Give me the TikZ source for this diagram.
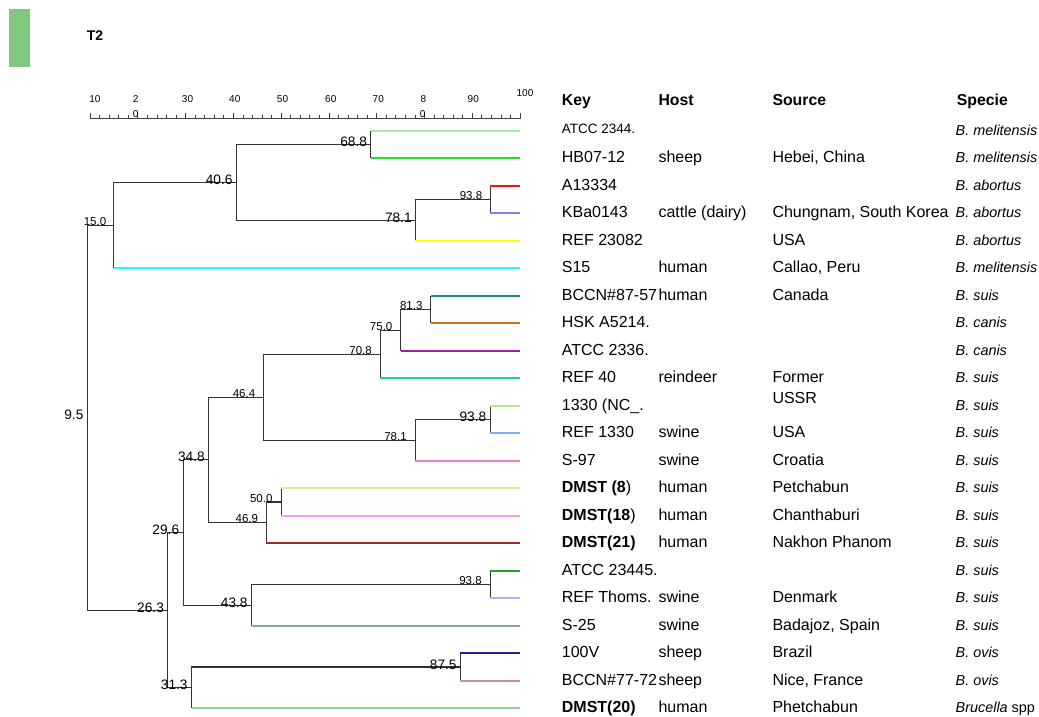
\documentclass[tikz,border=0pt]{standalone}
\usepackage{fontspec}
\setmainfont{Liberation Sans}
\usetikzlibrary{calc}
\definecolor{c1}{HTML}{A0F0A0}
\definecolor{c2}{HTML}{20E020}
\definecolor{c3}{HTML}{FF1010}
\definecolor{c4}{HTML}{8080FF}
\definecolor{c5}{HTML}{FFFF00}
\definecolor{c6}{HTML}{20FFFF}
\definecolor{c7}{HTML}{208888}
\definecolor{c8}{HTML}{D07020}
\definecolor{c9}{HTML}{A020A0}
\definecolor{c10}{HTML}{20D080}
\definecolor{c11}{HTML}{B8E880}
\definecolor{c12}{HTML}{80B0E8}
\definecolor{c13}{HTML}{F080B0}
\definecolor{c14}{HTML}{E8E890}
\definecolor{c15}{HTML}{F0A0F0}
\definecolor{c16}{HTML}{A02828}
\definecolor{c17}{HTML}{20A020}
\definecolor{c18}{HTML}{B0B0FF}
\definecolor{c19}{HTML}{88A8A0}
\definecolor{c20}{HTML}{2020A0}
\definecolor{c21}{HTML}{D09090}
\definecolor{c22}{HTML}{90D090}
\definecolor{tabgreen}{HTML}{80C880}
\newcommand\leafedge[3]{\draw[br] (#1) -- (#1 |- #2); \draw[lf,#3] (#1 |- #2) -- (#2);}
\begin{document}
\begin{tikzpicture}[x=1pt,y=-1pt,
  br/.style={draw=black!80,line width=1.1pt},
  lf/.style={line width=2pt},
  bigl/.style={font=\fontsize{13.7}{15}\selectfont,anchor=base east,inner sep=0pt},
  sml/.style={font=\fontsize{11.5}{13}\selectfont,anchor=base east,inner sep=0pt},
  cell/.style={font=\fontsize{16}{18}\selectfont,anchor=base west,inner sep=0pt},
  hdr/.style={anchor=base west,inner sep=0pt,font=\fontsize{15.8}{18}\selectfont\bfseries},
  sp/.style={anchor=base west,inner sep=0pt,font=\fontsize{14.4}{17}\selectfont\itshape},
  ax/.style={font=\fontsize{10}{12}\selectfont,inner sep=0pt,anchor=base},
  tick/.style={draw=black!75,line width=0.7pt},
]
\useasboundingbox (0,0) rectangle (1039,716);
\fill[tabgreen] (9,9) rectangle (30,67.3);
\node[font=\fontsize{14}{16}\selectfont\bfseries,anchor=base west,inner sep=0pt] (title) at (86.7,40) {T2};

% scale
\draw[tick] (90,118.7) coordinate (a0) -- (520,118.7) coordinate (a1);
\foreach \i in {0,...,45}{
  \pgfmathsetmacro\tx{90+\i*9.55556}
  \pgfmathsetmacro\th{mod(\i,5)==0 ? 6 : 3.3}
  \draw[tick] (\tx,118.7) -- (\tx,118.7-\th);
}
\node[ax] (s10) at (95,102) {10};
\node[ax] (s20) at (135.7,102) {2};
\node[ax] (s20b) at (135.7,117.7) {0};
\node[ax] (s30) at (187.5,102) {30};
\node[ax] (s40) at (234.8,102) {40};
\node[ax] (s50) at (282.5,102) {50};
\node[ax] (s60) at (330.8,102) {60};
\node[ax] (s70) at (378.3,102) {70};
\node[ax] (s80) at (423.3,102) {8};
\node[ax] (s80b) at (422.7,117.7) {0};
\node[ax] (s90) at (473.3,102) {90};
\node[ax] (s100) at (525,96.7) {100};

% leaves
\foreach \i in {1,...,22}{ \coordinate (L\i) at (520,{130.7+(\i-1)*27.5}); }
\def\S{4.7778}
\coordinate (root) at ({90+(9.5-10)*\S},417.65);
\coordinate (n150) at ({90+(15.0-10)*\S},225.25);
\coordinate (n406) at ({90+(40.6-10)*\S},182.3);
\coordinate (n688) at ({90+(68.8-10)*\S},144.45);
\coordinate (n781a) at ({90+(78.1-10)*\S},220.1);
\coordinate (n938a) at ({90+(93.8-10)*\S},199.45);
\coordinate (n263) at ({90+(26.3-10)*\S},610.05);
\coordinate (n296) at ({90+(29.6-10)*\S},532.5);
\coordinate (n348) at ({90+(34.8-10)*\S},459.85);
\coordinate (n464) at ({90+(46.4-10)*\S},397.1);
\coordinate (n708) at ({90+(70.8-10)*\S},354.15);
\coordinate (n750) at ({90+(75.0-10)*\S},330.1);
\coordinate (n813) at ({90+(81.3-10)*\S},309.45);
\coordinate (n781b) at ({90+(78.1-10)*\S},440.1);
\coordinate (n938b) at ({90+(93.8-10)*\S},419.45);
\coordinate (n469) at ({90+(46.9-10)*\S},522.6);
\coordinate (n500) at ({90+(50.0-10)*\S},501.95);
\coordinate (n438) at ({90+(43.8-10)*\S},605.1);
\coordinate (n938c) at ({90+(93.8-10)*\S},584.45);
\coordinate (n313) at ({90+(31.3-10)*\S},687.6);
\coordinate (n875) at ({90+(87.5-10)*\S},666.95);

% internal edges
\draw[br] (root) |- (n150);
\draw[br] (root) |- (n263);
\draw[br] (n150) |- (n406);
\draw[br] (n406) |- (n688);
\draw[br] (n406) |- (n781a);
\draw[br] (n781a) |- (n938a);
\draw[br] (n263) |- (n296);
\draw[br] (n263) |- (n313);
\draw[br] (n296) |- (n348);
\draw[br] (n296) |- (n438);
\draw[br] (n348) |- (n464);
\draw[br] (n348) |- (n469);
\draw[br] (n464) |- (n708);
\draw[br] (n464) |- (n781b);
\draw[br] (n708) |- (n750);
\draw[br] (n750) |- (n813);
\draw[br] (n781b) |- (n938b);
\draw[br] (n469) |- (n500);
\draw[br] (n438) |- (n938c);
\draw[br] (n313) |- (n875);

% leaf edges
\leafedge{n688}{L1}{c1}
\leafedge{n688}{L2}{c2}
\leafedge{n938a}{L3}{c3}
\leafedge{n938a}{L4}{c4}
\leafedge{n781a}{L5}{c5}
\leafedge{n150}{L6}{c6}
\leafedge{n813}{L7}{c7}
\leafedge{n813}{L8}{c8}
\leafedge{n750}{L9}{c9}
\leafedge{n708}{L10}{c10}
\leafedge{n938b}{L11}{c11}
\leafedge{n938b}{L12}{c12}
\leafedge{n781b}{L13}{c13}
\leafedge{n500}{L14}{c14}
\leafedge{n500}{L15}{c15}
\leafedge{n469}{L16}{c16}
\leafedge{n938c}{L17}{c17}
\leafedge{n938c}{L18}{c18}
\leafedge{n438}{L19}{c19}
\leafedge{n875}{L20}{c20}
\leafedge{n875}{L21}{c21}
\leafedge{n313}{L22}{c22}

% node labels
\node[bigl] (t95) at ($(root)+(-4,1.6)$) {9.5};
\node[sml] (t150) at ($(n150)+(-7.5,0.2)$) {15.0};
\node[bigl] (t406) at ($(n406)+(-3.5,2)$) {40.6};
\node[bigl] (t688) at ($(n688)+(-3.8,2)$) {68.8};
\node[bigl] (t781a) at ($(n781a)+(-3.5,2)$) {78.1};
\node[sml] (t938a) at ($(n938a)+(-8,0.2)$) {93.8};
\node[sml] (t813) at ($(n813)+(-8,0.2)$) {81.3};
\node[sml] (t750) at ($(n750)+(-8,0.2)$) {75.0};
\node[sml] (t708) at ($(n708)+(-8.5,0.3)$) {70.8};
\node[sml] (t464) at ($(n464)+(-8.5,0.3)$) {46.4};
\node[bigl] (t938b) at ($(n938b)+(-4,2)$) {93.8};
\node[sml] (t781b) at ($(n781b)+(-8.5,0.3)$) {78.1};
\node[bigl] (t348) at ($(n348)+(-3.5,2)$) {34.8};
\node[sml] (t500) at ($(n500)+(-8.5,0.3)$) {50.0};
\node[sml] (t469) at ($(n469)+(-8,0.3)$) {46.9};
\node[bigl] (t296) at ($(n296)+(-4.3,2)$) {29.6};
\node[bigl] (t263) at ($(n263)+(-3.8,2)$) {26.3};
\node[bigl] (t438) at ($(n438)+(-3.7,2)$) {43.8};
\node[sml] (t938c) at ($(n938c)+(-8.5,0.5)$) {93.8};
\node[bigl] (t875) at ($(n875)+(-3.5,2.2)$) {87.5};
\node[bigl] (t313) at ($(n313)+(-4,2.3)$) {31.3};

% table header
\node[hdr] (hk) at (561.7,105) {Key};
\node[hdr] (hh) at (658.3,105) {Host};
\node[hdr] (hs) at (772.3,105) {Source};
\node[hdr] (hp) at (956.7,105) {Specie};

% table rows
\node[anchor=base west,inner sep=0pt,font=\fontsize{13.5}{16}\selectfont] (k1) at (561.7,133.6) {ATCC 2344.};
\node[sp] (p1) at (955.5,135) {B. melitensis};

\node[cell] (k2) at (561.7,162.5) {HB07-12};
\node[cell] (h2) at (658.3,162.5) {sheep};
\node[cell] (s2) at (772.3,162.5) {Hebei, China};
\node[sp] (p2) at (955.5,162.5) {B. melitensis};

\node[cell] (k3) at (561.7,190) {A13334};
\node[sp] (p3) at (955.5,190) {B. abortus};

\node[cell] (k4) at (561.7,217.5) {KBa0143};
\node[cell] (h4) at (658.3,217.5) {cattle (dairy)};
\node[cell] (s4) at (772.3,217.5) {Chungnam, South Korea};
\node[sp] (p4) at (955.5,217.5) {B. abortus};

\node[cell] (k5) at (561.7,245) {REF 23082};
\node[cell] (s5) at (772.3,245) {USA};
\node[sp] (p5) at (955.5,245) {B. abortus};

\node[cell] (k6) at (561.7,272.5) {S15};
\node[cell] (h6) at (658.3,272.5) {human};
\node[cell] (s6) at (772.3,272.5) {Callao, Peru};
\node[sp] (p6) at (955.5,272.5) {B. melitensis};

\node[cell] (k7) at (561.7,300) {BCCN\#87-57};
\node[cell] (h7) at (658.3,300) {human};
\node[cell] (s7) at (772.3,300) {Canada};
\node[sp] (p7) at (955.5,300) {B. suis};

\node[cell] (k8) at (561.7,327.5) {HSK A5214.};
\node[sp] (p8) at (955.5,327.5) {B. canis};

\node[cell] (k9) at (561.7,355) {ATCC 2336.};
\node[sp] (p9) at (955.5,355) {B. canis};

\node[cell] (k10) at (561.7,382.5) {REF 40};
\node[cell] (h10) at (658.3,382.5) {reindeer};
\node[cell] (s10b) at (772.3,382.5) {Former};
\node[sp] (p10) at (955.5,382.5) {B. suis};

\node[cell] (k11) at (561.7,410) {1330 (NC\_.};
\node[cell] (s11) at (772.3,403.8) {USSR};
\node[sp] (p11) at (955.5,410) {B. suis};

\node[cell] (k12) at (561.7,437.5) {REF 1330};
\node[cell] (h12) at (658.3,437.5) {swine};
\node[cell] (s12) at (772.3,437.5) {USA};
\node[sp] (p12) at (955.5,437.5) {B. suis};

\node[cell] (k13) at (561.7,465) {S-97};
\node[cell] (h13) at (658.3,465) {swine};
\node[cell] (s13) at (772.3,465) {Croatia};
\node[sp] (p13) at (955.5,465) {B. suis};

\node[cell] (k14) at (561.7,492.5) {\textbf{DMST (8})};
\node[cell] (h14) at (658.3,492.5) {human};
\node[cell] (s14) at (772.3,492.5) {Petchabun};
\node[sp] (p14) at (955.5,492.5) {B. suis};

\node[cell] (k15) at (561.7,520) {\textbf{DMST(18})};
\node[cell] (h15) at (658.3,520) {human};
\node[cell] (s15) at (772.3,520) {Chanthaburi};
\node[sp] (p15) at (955.5,520) {B. suis};

\node[cell] (k16) at (561.7,547.5) {\textbf{DMST(21)}};
\node[cell] (h16) at (658.3,547.5) {human};
\node[cell] (s16) at (772.3,547.5) {Nakhon Phanom};
\node[sp] (p16) at (955.5,547.5) {B. suis};

\node[cell] (k17) at (561.7,575) {ATCC 23445.};
\node[sp] (p17) at (955.5,575) {B. suis};

\node[cell] (k18) at (561.7,602.5) {REF Thoms.};
\node[cell] (h18) at (658.3,602.5) {swine};
\node[cell] (s18) at (772.3,602.5) {Denmark};
\node[sp] (p18) at (955.5,602.5) {B. suis};

\node[cell] (k19) at (561.7,630) {S-25};
\node[cell] (h19) at (658.3,630) {swine};
\node[cell] (s19) at (772.3,630) {Badajoz, Spain};
\node[sp] (p19) at (955.5,630) {B. suis};

\node[cell] (k20) at (561.7,657.5) {100V};
\node[cell] (h20) at (658.3,657.5) {sheep};
\node[cell] (s20) at (772.3,657.5) {Brazil};
\node[sp] (p20) at (955.5,657.5) {B. ovis};

\node[cell] (k21) at (561.7,685) {BCCN\#77-72};
\node[cell] (h21) at (658.3,685) {sheep};
\node[cell] (s21) at (772.3,685) {Nice, France};
\node[sp] (p21) at (955.5,685) {B. ovis};

\node[cell] (k22) at (561.7,712.5) {\textbf{DMST(20)}};
\node[cell] (h22) at (658.3,712.5) {human};
\node[cell] (s22) at (772.3,712.5) {Phetchabun};
\node[anchor=base west,inner sep=0pt,font=\fontsize{14.4}{17}\selectfont] (p22) at (955.5,712.5) {\textit{Brucella} spp};
\end{tikzpicture}
\end{document}
